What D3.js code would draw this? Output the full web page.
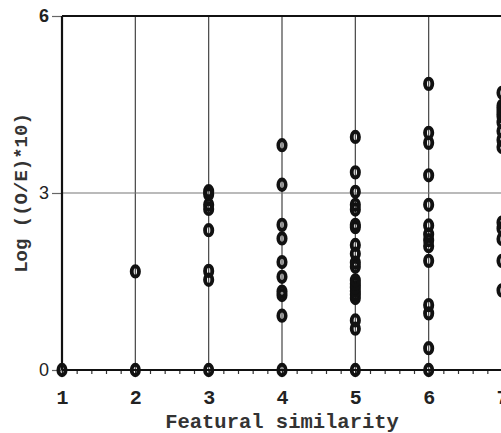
<!DOCTYPE html>
<html>
<head>
<meta charset="utf-8">
<script src="https://cdn.jsdelivr.net/npm/d3@7"></script>
<style>
  html, body { margin: 0; padding: 0; background: #fff; }
  svg { display: block; }
</style>
</head>
<body>
<div class="svg-container"></div>
<script>
// featural similarity groups and the log((O/E)*10) values read for each
const similarity = [1, 2, 3, 4, 5, 6, 7]
const logOE = [
  [0],
  [0, 1.67],
  [0, 1.53, 1.68, 2.37, 2.73, 2.8, 2.98, 3.03],
  [0, 0.92, 1.27, 1.33, 1.58, 1.83, 2.23, 2.46, 3.14, 3.81],
  [0, 0.7, 0.84, 1.22, 1.28, 1.34, 1.4, 1.46, 1.52, 1.75, 1.82, 1.97, 2.12, 2.42, 2.46, 2.72, 2.8, 3.02, 3.35, 3.95],
  [0, 0.37, 0.96, 1.1, 1.85, 2.1, 2.2, 2.3, 2.45, 2.8, 3.3, 3.85, 4.02, 4.85],
  [1.35, 1.85, 2.22, 2.4, 2.5, 3.78, 3.9, 4.05, 4.2, 4.3, 4.36, 4.42, 4.48, 4.7]
]
const xTicks = [1, 2, 3, 4, 5, 6, 7]
const yTicks = [0, 3, 6]
const xTitle = 'Featural similarity'
const yTitle = 'Log ((O/E)*10)'

const width = 501
const height = 433
const mono = '"Liberation Mono", "Courier New", monospace'

const points = similarity.flatMap((s, i) => logOE[i].map(v => ({ s, v })))

const svg = d3.select('.svg-container')
  .append('svg')
  .attr('width', width)
  .attr('height', height)

const xScale = d3.scaleLinear([1, 7], [62, 502])
const yScale = d3.scaleLinear([0, 6], [370, 16])

// grid
svg.append('g')
  .selectAll('line')
  .data(xTicks.slice(1))
  .join('line')
  .attr('x1', d => xScale(d))
  .attr('x2', d => xScale(d))
  .attr('y1', yScale(0))
  .attr('y2', yScale(6))
  .attr('stroke', '#444')
  .attr('stroke-width', 1.2)

svg.append('line')
  .attr('x1', xScale(1))
  .attr('x2', width)
  .attr('y1', yScale(3))
  .attr('y2', yScale(3))
  .attr('stroke', '#777')
  .attr('stroke-width', 1.2)

svg.append('line')
  .attr('x1', xScale(1))
  .attr('x2', width)
  .attr('y1', yScale(6))
  .attr('y2', yScale(6))
  .attr('stroke', '#111')
  .attr('stroke-width', 1.8)

// x axis with minor ticks
const xMinor = svg.append('g')
  .attr('transform', `translate(0, ${yScale(0)})`)
  .call(d3.axisBottom(xScale).tickValues(d3.range(1, 7.01, 0.2)).tickSize(4).tickFormat(''))
xMinor.select('.domain').remove()
xMinor.selectAll('line').attr('stroke', '#333').attr('stroke-width', 1.2)

const xAxis = svg.append('g')
  .attr('transform', `translate(0, ${yScale(0)})`)
  .call(d3.axisBottom(xScale).tickValues(xTicks).tickSize(6).tickPadding(14).tickFormat(d3.format('d')))
xAxis.select('.domain').remove()
xAxis.selectAll('line').attr('stroke', '#222').attr('stroke-width', 1.4)
xAxis.selectAll('text')
  .attr('font-family', mono)
  .attr('font-weight', 'bold')
  .attr('font-size', 20)
  .attr('fill', '#222')

svg.append('line')
  .attr('x1', xScale(1))
  .attr('x2', width)
  .attr('y1', yScale(0))
  .attr('y2', yScale(0))
  .attr('stroke', '#111')
  .attr('stroke-width', 2.2)

// y axis
const yAxis = svg.append('g')
  .attr('transform', `translate(${xScale(1)}, 0)`)
  .call(d3.axisLeft(yScale).tickValues(yTicks).tickSize(10).tickPadding(3).tickFormat(d3.format('d')))
yAxis.select('.domain').remove()
yAxis.selectAll('line').attr('stroke', '#666').attr('stroke-width', 1.2)
yAxis.selectAll('text')
  .attr('font-family', '"Liberation Sans", Arial, sans-serif')
  .attr('font-size', 18)
  .attr('fill', '#222')
yAxis.selectAll('text').filter(d => d === 6).attr('font-weight', 'bold')

svg.append('line')
  .attr('x1', xScale(1))
  .attr('x2', xScale(1))
  .attr('y1', yScale(0))
  .attr('y2', yScale(6))
  .attr('stroke', '#111')
  .attr('stroke-width', 2.2)

// points
svg.append('g')
  .selectAll('ellipse')
  .data(points)
  .join('ellipse')
  .attr('cx', d => xScale(d.s))
  .attr('cy', d => yScale(d.v))
  .attr('rx', 3.6)
  .attr('ry', 5.2)
  .attr('fill', 'none')
  .attr('stroke', '#111')
  .attr('stroke-width', 3.9)

// titles
svg.append('text')
  .attr('x', xScale(4))
  .attr('y', 428)
  .attr('text-anchor', 'middle')
  .attr('font-family', mono)
  .attr('font-weight', 'bold')
  .attr('font-size', 20.5)
  .attr('fill', '#333')
  .text(xTitle)

svg.append('text')
  .attr('transform', `translate(27, ${yScale(3)}) rotate(-90)`)
  .attr('text-anchor', 'middle')
  .attr('font-family', mono)
  .attr('font-weight', 'bold')
  .attr('font-size', 19)
  .attr('fill', '#333')
  .text(yTitle)
</script>
</body>
</html>
